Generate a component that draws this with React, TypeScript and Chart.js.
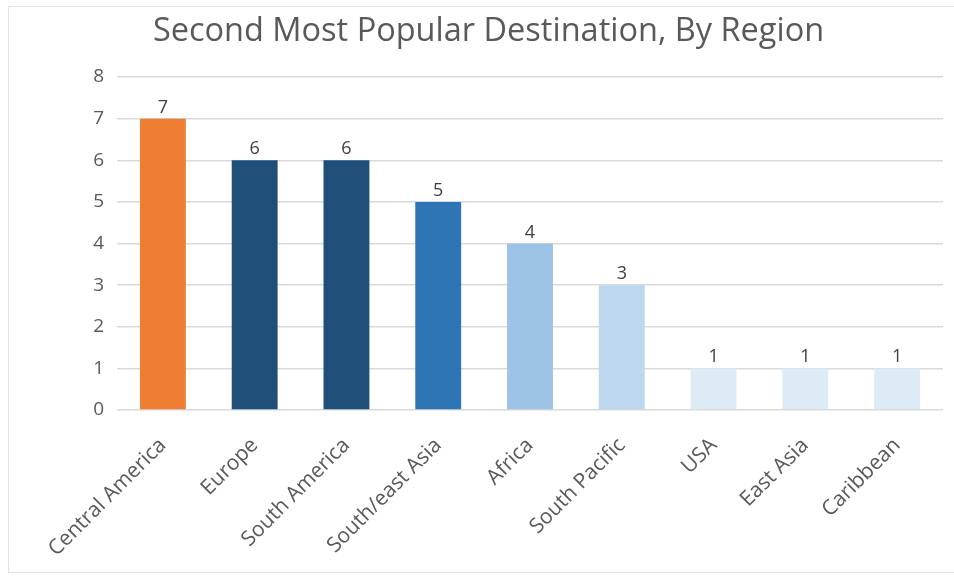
import React, { useEffect, useRef } from "react";
import { Chart, registerables } from "chart.js";

Chart.register(...registerables);

const categories = [
  "Central America",
  "Europe",
  "South America",
  "South/east Asia",
  "Africa",
  "South Pacific",
  "USA",
  "East Asia",
  "Caribbean",
];
const counts = [7, 6, 6, 5, 4, 3, 1, 1, 1];
const barColors = [
  "#ED7D31",
  "#1F4E79",
  "#1F4E79",
  "#2E75B6",
  "#9DC3E6",
  "#BDD7EE",
  "#DDEBF7",
  "#DDEBF7",
  "#DDEBF7",
];
const yTicks = [0, 1, 2, 3, 4, 5, 6, 7, 8];
const titleText = "Second Most Popular Destination, By Region";

const FONT = "'Open Sans', 'Segoe UI', sans-serif";
const TEXT = "#595959";

const valueLabels = {
  id: "valueLabels",
  afterDatasetsDraw(chart: any) {
    const ctx = chart.ctx;
    const meta = chart.getDatasetMeta(0);
    ctx.save();
    ctx.font = `18px ${FONT}`;
    ctx.fillStyle = "#404040";
    ctx.textAlign = "center";
    ctx.textBaseline = "alphabetic";
    meta.data.forEach((el: any, i: number) => {
      ctx.fillText(String(chart.data.datasets[0].data[i]), el.x, el.y - 6);
    });
    ctx.restore();
  },
};

export default function App() {
  const ref = useRef<HTMLCanvasElement | null>(null);
  useEffect(() => {
    if (!ref.current) return;
    const chart = new Chart(ref.current, {
      type: "bar",
      data: {
        labels: categories,
        datasets: [
          {
            data: counts,
            backgroundColor: barColors,
            categoryPercentage: 1,
            barPercentage: 0.5,
          },
        ],
      },
      plugins: [valueLabels],
      options: {
        animation: false,
        responsive: false,
        layout: { padding: { left: 34, right: 11, top: 0, bottom: 0 } },
        plugins: {
          legend: { display: false },
          tooltip: { enabled: false },
          title: {
            display: true,
            text: titleText,
            color: TEXT,
            font: { family: FONT, size: 32.5, weight: "normal", lineHeight: 1.2 },
            padding: { top: 12, bottom: 26 },
          },
        },
        scales: {
          x: {
            grid: { display: false, drawTicks: false },
            border: { display: false },
            ticks: {
              color: TEXT,
              font: { family: FONT, size: 21 },
              minRotation: 45,
              maxRotation: 45,
              padding: 23,
              autoSkip: false,
            },
            afterFit(scale: any) {
              scale.height = 169;
            },
          },
          y: {
            min: 0,
            max: 8,
            afterBuildTicks(scale: any) {
              scale.ticks = yTicks.map((v) => ({ value: v }));
            },
            grid: { color: "#D9D9D9", lineWidth: 1.5, drawTicks: false },
            border: { display: false },
            ticks: {
              color: TEXT,
              font: { family: FONT, size: 19 },
              padding: 13,
            },
            afterFit(scale: any) {
              scale.width = 83;
            },
          },
        },
      },
    });
    return () => chart.destroy();
  }, []);
  return (
    <div style={{ position: "fixed", left: 0, top: 0, width: 954, height: 579, background: "#fff" }}>
      <div
        style={{
          position: "absolute",
          left: 8,
          top: 6,
          width: 960,
          height: 567,
          border: "1px solid #E3E3E3",
          boxSizing: "border-box",
        }}
      />
      <canvas ref={ref} width={954} height={579} style={{ position: "absolute", left: 0, top: 0, display: "block" }} />
    </div>
  );
}
